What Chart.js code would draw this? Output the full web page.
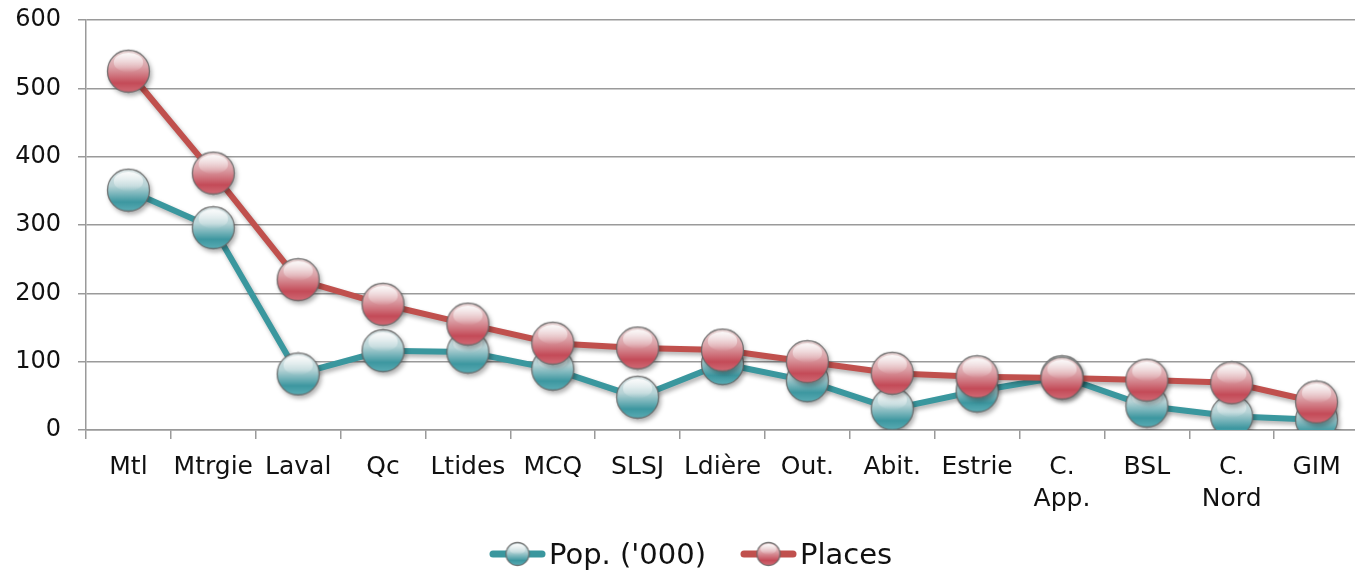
<!DOCTYPE html>
<html>
<head>
<meta charset="utf-8">
<script src="https://cdn.jsdelivr.net/npm/chart.js@4"></script>
<style>
  html, body { margin: 0; padding: 0; background: #fff; overflow: hidden; }
  #wrap { position: relative; width: 1359px; height: 573px; }
  #legend { position: absolute; left: 489px; top: 537px; display: flex; align-items: center;
            font-family: 'DejaVu Sans', sans-serif; font-size: 29px; color: #111; white-space: nowrap; }
  #legend .item { display: flex; align-items: center; margin-right: 34px; }
  #legend canvas { margin-right: 3px; }
</style>
</head>
<body>
<div id="wrap">
  <canvas id="regionChart" width="1359" height="573"></canvas>
  <div id="legend"></div>
</div>
<script>
// Data
const categories = ['Mtl', 'Mtrgie', 'Laval', 'Qc', 'Ltides', 'MCQ', 'SLSJ', 'Ldière', 'Out.', 'Abit.', 'Estrie', ['C.', 'App.'], 'BSL', ['C.', 'Nord'], 'GIM'];
const popValues = [351, 296, 82, 116, 114, 89, 48, 97, 72, 31, 57, 78, 35, 20, 15];
const placesValues = [525, 376, 220, 184, 155, 127, 120, 117, 100, 83, 78, 76, 73, 69, 41];
const seriesNames = ["Pop. ('000)", 'Places'];
const yTicks = [0, 100, 200, 300, 400, 500, 600];

const FONT = "'DejaVu Sans', sans-serif";

// glossy sphere used as point marker
function makeSphere(top, mid, base, rim, size) {
    const c = document.createElement('canvas');
    c.width = size; c.height = size;
    const g = c.getContext('2d');
    const cx = size / 2, cy = size / 2, r = size / 2 - 1.5;
    const body = g.createLinearGradient(0, cy - r, 0, cy + r);
    body.addColorStop(0, top);
    body.addColorStop(0.4, mid);
    body.addColorStop(0.78, base);
    body.addColorStop(1, rim);
    g.beginPath();
    g.arc(cx, cy, r, 0, Math.PI * 2);
    g.fillStyle = body;
    g.fill();
    // soft highlight on the upper half
    g.save();
    g.beginPath();
    g.ellipse(cx, cy - r * 0.42, r * 0.7, r * 0.46, 0, 0, Math.PI * 2);
    const hl = g.createLinearGradient(0, cy - r * 0.9, 0, cy);
    hl.addColorStop(0, 'rgba(255,255,255,0.9)');
    hl.addColorStop(1, 'rgba(255,255,255,0.05)');
    g.fillStyle = hl;
    g.fill();
    g.restore();
    g.beginPath();
    g.arc(cx, cy, r, 0, Math.PI * 2);
    g.lineWidth = 1.3;
    g.strokeStyle = 'rgba(100,100,100,0.85)';
    g.stroke();
    return c;
}

// legend glyph: short line with a small sphere on it
function makeLegendGlyph(color, sphere) {
    const c = document.createElement('canvas');
    c.width = 57; c.height = 28;
    const g = c.getContext('2d');
    g.strokeStyle = color;
    g.lineWidth = 7;
    g.lineCap = 'round';
    g.beginPath();
    g.moveTo(4, 14);
    g.lineTo(53, 14);
    g.stroke();
    g.drawImage(sphere, 28.5 - 13, 1, 26, 26);
    return c;
}

const tealLine = '#3a979e';
const redLine = '#c0504d';
const tealColors = ['#dde5e6', '#b6d3d6', '#3d97a0', '#5aacb4'];
const redColors = ['#e6d6d6', '#dca2a8', '#c44b58', '#d06a75'];
const tealSphere = makeSphere(...tealColors, 45);
const redSphere = makeSphere(...redColors, 45);

const shadowPlugin = {
    id: 'lineShadow',
    beforeDatasetsDraw(chart) {
        const ctx = chart.ctx;
        ctx.save();
        ctx.shadowColor = 'rgba(0,0,0,0.3)';
        ctx.shadowBlur = 4;
        ctx.shadowOffsetX = 2;
        ctx.shadowOffsetY = 3;
    },
    afterDatasetsDraw(chart) {
        chart.ctx.restore();
    }
};

// html legend: line + sphere glyph, then the series name
function buildLegend() {
    const box = document.getElementById('legend');
    [[seriesNames[0], tealLine, tealColors], [seriesNames[1], redLine, redColors]].forEach(function(s) {
        const item = document.createElement('div');
        item.className = 'item';
        item.appendChild(makeLegendGlyph(s[1], makeSphere(...s[2], 26)));
        const span = document.createElement('span');
        span.textContent = s[0];
        item.appendChild(span);
        box.appendChild(item);
    });
}

document.addEventListener('DOMContentLoaded', function() {
    const ctx = document.getElementById('regionChart');
    buildLegend();

    new Chart(ctx, {
        type: 'line',
        data: {
            labels: categories,
            datasets: [{
                label: seriesNames[0],
                data: popValues,
                borderColor: tealLine,
                borderWidth: 6,
                pointStyle: tealSphere,
                pointRadius: 21,
                order: 2,
                tension: 0
            }, {
                label: seriesNames[1],
                data: placesValues,
                borderColor: redLine,
                borderWidth: 6,
                pointStyle: redSphere,
                pointRadius: 21,
                order: 1,
                tension: 0
            }]
        },
        plugins: [shadowPlugin],
        options: {
            responsive: false,
            animation: false,
            layout: {
                autoPadding: false,
                padding: 0
            },
            plugins: {
                tooltip: { enabled: false },
                legend: { display: false }
            },
            scales: {
                y: {
                    min: 0,
                    max: 600,
                    afterBuildTicks: function(scale) {
                        scale.ticks = yTicks.map(v => ({ value: v }));
                    },
                    afterFit: function(scale) {
                        scale.width = 86;
                        scale.paddingTop = 20;
                        scale.paddingBottom = 0;
                    },
                    ticks: {
                        color: '#111',
                        padding: 17,
                        font: { size: 24, family: FONT }
                    },
                    grid: {
                        color: '#9a9a9a',
                        lineWidth: 1.5,
                        tickLength: 8
                    },
                    border: { color: '#9a9a9a', width: 1.5 }
                },
                x: {
                    offset: true,
                    afterFit: function(scale) {
                        scale.height = 143;
                        scale.paddingLeft = 0;
                        scale.paddingRight = 0;
                    },
                    ticks: {
                        color: '#111',
                        padding: 12,
                        maxRotation: 0,
                        autoSkip: false,
                        font: { size: 25, family: FONT, lineHeight: 1.3 }
                    },
                    grid: {
                        offset: true,
                        drawOnChartArea: false,
                        color: '#9a9a9a',
                        lineWidth: 1.5,
                        tickLength: 9
                    },
                    border: { color: '#9a9a9a', width: 1.5 }
                }
            }
        }
    });
});
</script>
</body>
</html>
